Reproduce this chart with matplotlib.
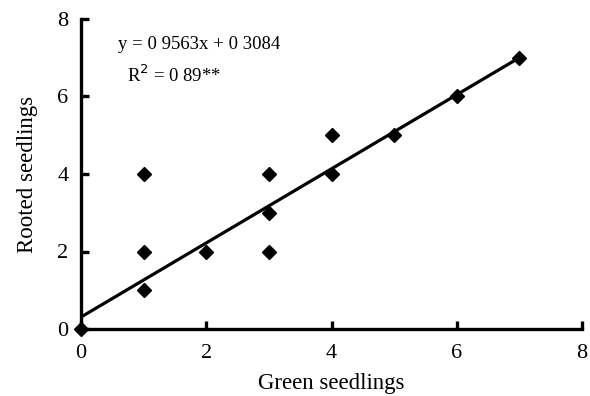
import numpy as np
import matplotlib.pyplot as plt

# Observed counts per plant line
green = [0, 1, 1, 1, 2, 3, 3, 3, 4, 4, 5, 6, 7]
rooted = [0, 1, 2, 4, 2, 2, 3, 4, 4, 5, 5, 6, 7]

slope = 0.9563
intercept = 0.3084
fit_x = [0, 7]

x_ticks = [0, 2, 4, 6, 8]
y_ticks = [0, 2, 4, 6, 8]

plt.rcParams['font.family'] = ['Liberation Serif', 'DejaVu Serif']

fig = plt.figure(figsize=(5.9, 3.96), dpi=100)
ax = fig.add_axes([81 / 590, 1 - 329 / 396, 501 / 590, 310 / 396])

fx = np.array(fit_x)
ax.plot(fx, slope * fx + intercept, color='black', lw=2.3, zorder=2)
ax.plot(green, rooted, 'D', color='black', ms=7.5, clip_on=False, zorder=3)

ax.set_xlim(0, 8)
ax.set_ylim(0, 8)
ax.set_xticks(x_ticks)
ax.set_yticks(y_ticks)
for s in ['top', 'right']:
    ax.spines[s].set_visible(False)
for s in ['left', 'bottom']:
    ax.spines[s].set_linewidth(2.4)
ax.tick_params(direction='in', length=6, width=2.4, labelsize=16)
ax.tick_params(axis='y', pad=9)
ax.tick_params(axis='x', pad=11)

ax.set_xlabel('Green seedlings', fontsize=16.5, labelpad=7)
ax.set_ylabel('Rooted seedlings', fontsize=16.5, labelpad=14)

ax.text(0.59, 7.35, 'y = 0 9563x + 0 3084', fontsize=13.5, va='center')
ax.text(0.74, 6.55, r'R$^2$ = 0 89**', fontsize=13.5, va='center')

fig.savefig('out.png', dpi=100)
